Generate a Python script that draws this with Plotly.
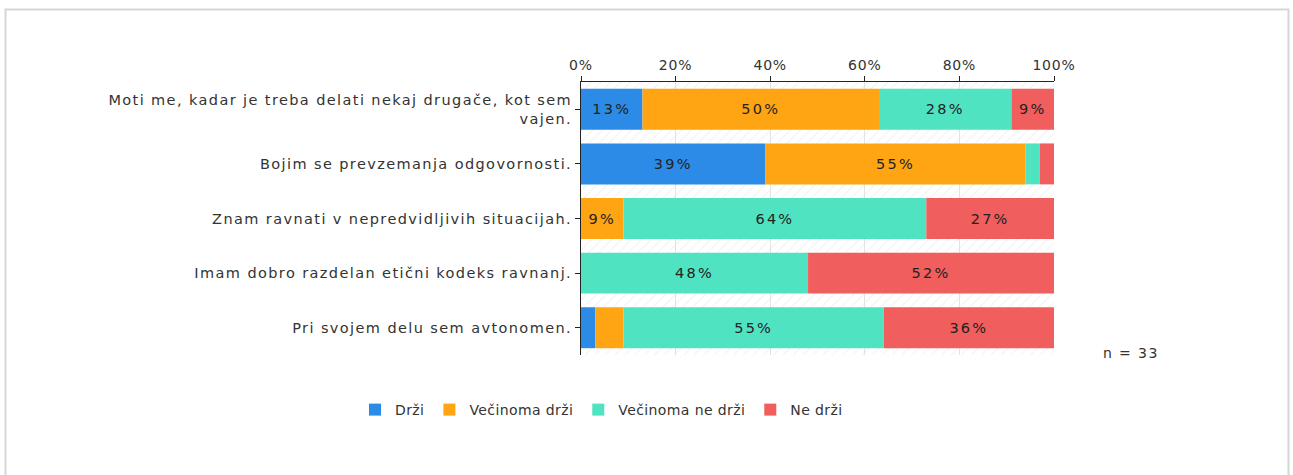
import numpy as np
import plotly.graph_objects as go

categories = [
    "Moti me, kadar je treba delati nekaj drugače, kot sem<br>vajen.",
    "Bojim se prevzemanja odgovornosti.",
    "Znam ravnati v nepredvidljivih situacijah.",
    "Imam dobro razdelan etični kodeks ravnanj.",
    "Pri svojem delu sem avtonomen.",
]
series_names = ["Drži", "Večinoma drži", "Večinoma ne drži", "Ne drži"]
drzi = [13, 39, 0, 0, 3]
vecinoma_drzi = [50, 55, 9, 0, 6]
vecinoma_ne_drzi = [28, 3, 64, 48, 55]
ne_drzi = [9, 3, 27, 52, 36]
colors = ["#2B8BE6", "#FFA514", "#50E3C2", "#F05E5E"]
x_ticks = [0, 20, 40, 60, 80, 100]
n_text = "n = 33"

values = [drzi, vecinoma_drzi, vecinoma_ne_drzi, ne_drzi]


def sp(text, ls):
    """Wrap each line of a label in a letter-spaced span."""
    return "<br>".join(f'<span style="letter-spacing:{ls}px">{line}</span>'
                       for line in text.split("<br>"))


FONT = "DejaVu Sans"
cat_labels = [sp(c, 1.4) for c in categories]

# plot area in pixels (for placing the frame / legend / note)
L, R, T, B = 581, 1054, 82, 355
PW, PH = R - L, B - T

fig = go.Figure()

# hatched background band behind each row
fig.add_trace(go.Bar(
    y=categories, x=[100] * len(categories), orientation="h", width=1,
    marker=dict(color="rgba(0,0,0,0)", line=dict(width=0),
                pattern=dict(shape="/", fgcolor="#e2e2e2", bgcolor="rgba(0,0,0,0)",
                             size=7, solidity=0.15, fillmode="overlay")),
    showlegend=False, hoverinfo="skip",
))

base = np.zeros(len(categories))
for name, vals, col in zip(series_names, values, colors):
    vals = np.array(vals, dtype=float)
    txt = [sp(f"{int(v)}%", 2.2) if v >= 9 else "" for v in vals]
    fig.add_trace(go.Bar(
        y=categories, x=vals, base=base.copy(), orientation="h", width=0.75,
        name=sp(name, 0.4), marker=dict(color=col, line=dict(width=0)),
        text=txt, textposition="inside", insidetextanchor="middle",
        textangle=0, textfont=dict(color="#222222", size=14.5, family=FONT),
        constraintext="none", hoverinfo="skip",
    ))
    base = base + vals

fig.update_layout(
    width=1293, height=475,
    barmode="overlay",
    plot_bgcolor="white", paper_bgcolor="white",
    margin=dict(l=L, r=1293 - R, t=T, b=475 - B),
    font=dict(family=FONT, size=14, color="#333333"),
    xaxis=dict(side="top", range=[0, 100], tickvals=x_ticks,
               ticktext=[sp(f"{t}%", 0.8) for t in x_ticks],
               showline=True, linecolor="#222222", linewidth=1,
               ticks="outside", ticklen=5, tickcolor="#222222",
               showgrid=True, gridcolor="#e2e2e2", zeroline=False,
               fixedrange=True),
    yaxis=dict(categoryorder="array", categoryarray=categories,
               tickmode="array", tickvals=categories, ticktext=cat_labels,
               tickfont=dict(size=14.5),
               autorange="reversed", showline=True, linecolor="#222222",
               linewidth=1, ticks="outside", ticklen=5, tickcolor="#222222",
               showgrid=False, zeroline=False),
    legend=dict(orientation="h", xref="paper", x=(355 - L) / PW, xanchor="left",
                yref="paper", y=(B - 410) / PH, yanchor="middle",
                font=dict(size=14, color="#333333"), traceorder="normal",
                itemclick=False, itemwidth=30),
    shapes=[dict(type="rect", xref="paper", yref="paper",
                 x0=(5.5 - L) / PW, x1=(1288.5 - L) / PW,
                 y0=(B - 490) / PH, y1=(B - 9.5) / PH,
                 line=dict(color="#d6d6d6", width=2), layer="below")],
    annotations=[dict(text=sp(n_text, 1.4), xref="paper", yref="paper",
                      x=(1131 - L) / PW, y=(B - 353) / PH,
                      xanchor="center", yanchor="middle", showarrow=False,
                      font=dict(size=14, color="#333333"))],
)

fig.write_html("out.html", config={"displayModeBar": False},
               post_script="document.body.style.margin='0';")
